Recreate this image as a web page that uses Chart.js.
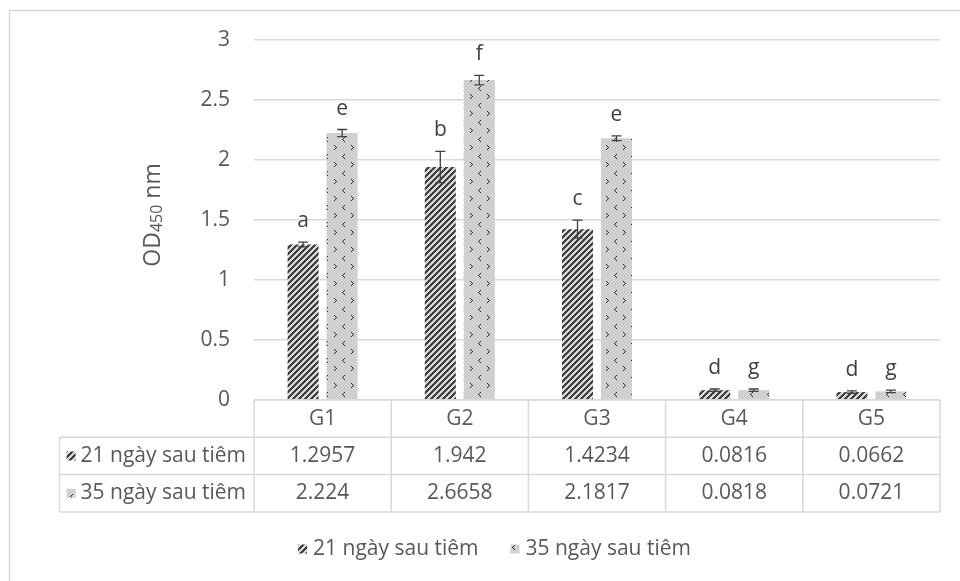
<!DOCTYPE html>
<html>
<head>
<meta charset="utf-8">
<script src="https://cdn.jsdelivr.net/npm/chart.js@4.4.1/dist/chart.umd.min.js"></script>
<style>
  html, body { margin: 0; padding: 0; background: #ffffff; }
  canvas { display: block; }
</style>
</head>
<body>
<canvas id="c" width="960" height="581"></canvas>
<script>
// Groups and series
const categories = ['G1', 'G2', 'G3', 'G4', 'G5'];
const seriesNames = ['21 ngày sau tiêm', '35 ngày sau tiêm'];
const day21 = [1.2957, 1.942, 1.4234, 0.0816, 0.0662];
const day35 = [2.224, 2.6658, 2.1817, 0.0818, 0.0721];
// Standard error (+/-) per bar
const err21 = [0.02, 0.13, 0.075, 0.01, 0.01];
const err35 = [0.03, 0.04, 0.02, 0.01, 0.01];
// Significance letters above each bar
const letters21 = ['a', 'b', 'c', 'd', 'd'];
const letters35 = ['e', 'f', 'e', 'g', 'g'];
// Value axis
const yMin = 0, yMax = 3, yStep = 0.5;

const FONT = "'Open Sans', 'Liberation Sans', sans-serif";
const FS = 21;
const TEXT = '#595959';
const GRID = '#d9d9d9';
const DARK = '#404040';

// Fill patterns built pixel by pixel
function makeStripes() {
  const n = 6;
  const t = document.createElement('canvas');
  t.width = n; t.height = n;
  const g = t.getContext('2d');
  g.fillStyle = '#d9d9d9';
  g.fillRect(0, 0, n, n);
  g.fillStyle = DARK;
  for (let y = 0; y < n; y++)
    for (let x = 0; x < n; x++)
      if ((x + y) % n < 3) g.fillRect(x, y, 1, 1);
  return g.createPattern(t, 'repeat');
}
function makeDivots() {
  const n = 17;
  const t = document.createElement('canvas');
  t.width = n; t.height = n;
  const g = t.getContext('2d');
  g.fillStyle = '#d0d0d0';
  g.fillRect(0, 0, n, n);
  g.fillStyle = '#2a2a2a';
  // small "<" and ">" marks, offset by half a tile
  const lt = [[2, 0], [1, 1], [0, 2], [1, 3], [2, 4]];
  const gt = [[0, 0], [1, 1], [2, 2], [1, 3], [0, 4]];
  lt.forEach(([x, y]) => g.fillRect(2 + x, 1 + y, 1, 1));
  gt.forEach(([x, y]) => g.fillRect(11 + x, 9 + y, 1, 1));
  return g.createPattern(t, 'repeat');
}
const fills = [makeStripes(), makeDivots()];
const errs = [err21, err35];
const letters = [letters21, letters35];

const ROW_H = 37.3;

const decor = {
  id: 'decor',
  beforeDraw(chart) {
    const c = chart.ctx;
    c.save();
    c.fillStyle = '#ffffff';
    c.fillRect(0, 0, chart.width, chart.height);
    c.strokeStyle = GRID;
    c.lineWidth = 1.5;
    c.strokeRect(9.5, 10.5, 1000, 1000);
    c.restore();
  },
  afterDatasetsDraw(chart) {
    const c = chart.ctx;
    const y = chart.scales.y;
    const area = chart.chartArea;
    const font = FS + 'px ' + FONT;
    c.save();
    // error bars and letters
    chart.data.datasets.forEach((ds, di) => {
      const meta = chart.getDatasetMeta(di);
      meta.data.forEach((bar, i) => {
        const v = ds.data[i], e = errs[di][i];
        const yt = y.getPixelForValue(v + e);
        const yb = y.getPixelForValue(v - e);
        const x = bar.x;
        c.strokeStyle = DARK;
        c.lineWidth = 1.3;
        c.beginPath();
        c.moveTo(x, yt); c.lineTo(x, yb);
        c.moveTo(x - 5, yt); c.lineTo(x + 5, yt);
        c.moveTo(x - 5, yb); c.lineTo(x + 5, yb);
        c.stroke();
        c.fillStyle = DARK;
        c.font = font;
        c.textAlign = 'center';
        c.textBaseline = 'alphabetic';
        c.fillText(letters[di][i], x, yt - 15);
      });
    });

    // y-axis title with subscript
    c.translate(153, 215);
    c.rotate(-Math.PI / 2);
    c.fillStyle = TEXT;
    c.textBaseline = 'middle';
    c.textAlign = 'left';
    const big = '23px ' + FONT, small = '16px ' + FONT;
    c.font = big; const w1 = c.measureText('OD').width; const w3 = c.measureText(' nm').width;
    c.font = small; const w2 = c.measureText('450').width;
    let x0 = -(w1 + w2 + w3) / 2;
    c.font = big; c.fillText('OD', x0, 0);
    c.font = small; c.fillText('450', x0 + w1, 4);
    c.font = big; c.fillText(' nm', x0 + w1 + w2, 0);
    c.setTransform(1, 0, 0, 1, 0, 0);

    // data table
    const L = area.left, R = area.right, T = area.bottom;
    const cw = (R - L) / categories.length;
    c.font = font;
    const labW = Math.max(...seriesNames.map(s => c.measureText(s).width));
    const textRight = L - 8;
    const keyX = textRight - labW - 14;
    const tabLeft = keyX - 7;
    c.strokeStyle = GRID;
    c.lineWidth = 1.5;
    c.beginPath();
    c.moveTo(L, T); c.lineTo(R, T);
    for (let r = 1; r <= 3; r++) { c.moveTo(tabLeft, T + r * ROW_H); c.lineTo(R, T + r * ROW_H); }
    for (let k = 0; k <= categories.length; k++) {
      c.moveTo(L + k * cw, T); c.lineTo(L + k * cw, T + 3 * ROW_H);
    }
    c.moveTo(tabLeft, T + ROW_H); c.lineTo(tabLeft, T + 3 * ROW_H);
    c.stroke();

    c.fillStyle = TEXT;
    c.textAlign = 'center';
    c.textBaseline = 'middle';
    categories.forEach((g, k) => c.fillText(g, L + (k + 0.5) * cw, T + ROW_H / 2));
    const rows = [day21, day35];
    rows.forEach((vals, r) => {
      const cy = T + (r + 1.5) * ROW_H;
      vals.forEach((v, k) => c.fillText(String(v), L + (k + 0.5) * cw, cy));
      c.fillStyle = fills[r];
      c.fillRect(keyX, cy - 4.5, 9, 9);
      c.fillStyle = TEXT;
      c.textAlign = 'right';
      c.fillText(seriesNames[r], textRight, cy);
      c.textAlign = 'center';
    });

    // legend, centred under the chart
    const ly = 549, box = 9, gap = 6, between = 32;
    const widths = seriesNames.map(s => c.measureText(s).width);
    const total = widths.reduce((a, w) => a + box + gap + w, 0) + between;
    let lx = 494.5 - total / 2;
    c.textAlign = 'left';
    seriesNames.forEach((s, r) => {
      c.fillStyle = fills[r];
      c.fillRect(lx, ly - 4.5, box, box);
      c.fillStyle = TEXT;
      c.fillText(s, lx + box + gap, ly);
      lx += box + gap + widths[r] + between;
    });
    c.restore();
  }
};

new Chart(document.getElementById('c'), {
  type: 'bar',
  data: {
    labels: categories,
    datasets: [
      { label: seriesNames[0], data: day21, backgroundColor: fills[0], borderWidth: 0 },
      { label: seriesNames[1], data: day35, backgroundColor: fills[1], borderWidth: 0 }
    ]
  },
  options: {
    responsive: false,
    animation: false,
    devicePixelRatio: 1,
    layout: { padding: { top: 40, right: 20, bottom: 181, left: 0 } },
    datasets: { bar: { categoryPercentage: 0.5685, barPercentage: 0.795 } },
    plugins: { legend: { display: false }, tooltip: { enabled: false } },
    scales: {
      x: { display: false },
      y: {
        min: yMin, max: yMax,
        ticks: { stepSize: yStep, padding: 24, color: TEXT, font: { family: FONT, size: FS },
                 callback: v => String(v) },
        grid: { color: GRID, lineWidth: 1.5, drawTicks: false },
        border: { display: false },
        afterFit(s) { s.width = 254; }
      }
    }
  },
  plugins: [decor]
});
</script>
</body>
</html>
